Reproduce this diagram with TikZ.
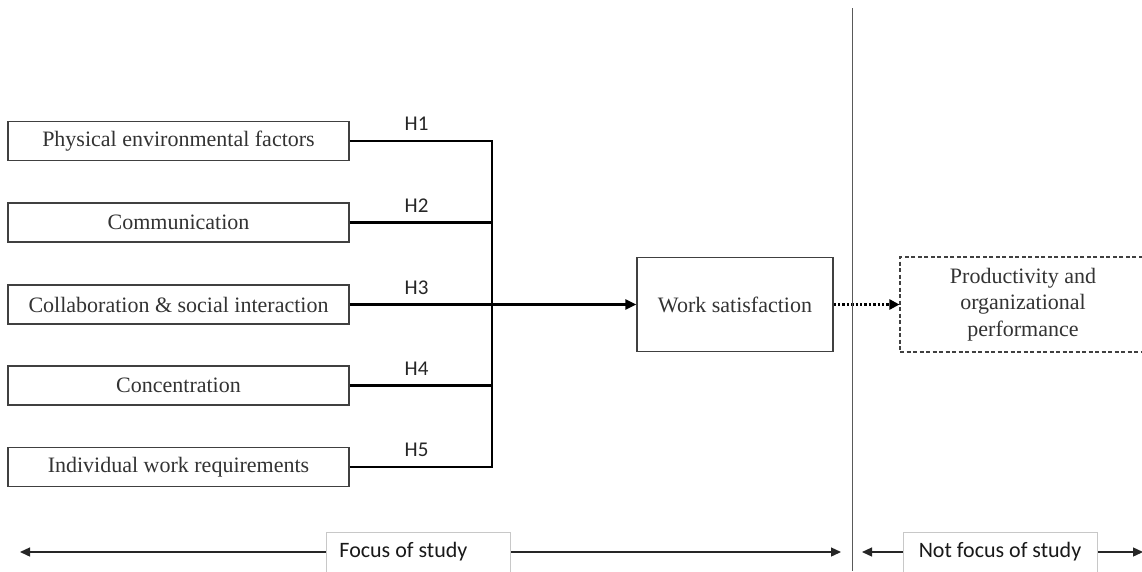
\documentclass[tikz,border=0pt]{standalone}
\usepackage{fontspec}
\setmainfont{Liberation Serif}
\newfontfamily\calibri{Carlito}
\usetikzlibrary{arrows.meta}
\definecolor{boxline}{HTML}{404040}
\definecolor{txt}{HTML}{333333}
\definecolor{lblline}{HTML}{C8C8C8}
\tikzset{
  factor/.style={draw=boxline, line width=1.3pt, minimum width=341pt, minimum height=39pt, inner sep=0pt,
    text=txt, font=\fontsize{22}{26.5}\selectfont},
  conn/.style={line width=2.6pt, black},
  tip/.style={-{Triangle[length=11pt,width=10pt]}},
  hlabel/.style={font=\calibri\fontsize{21}{24}\selectfont, text=black!85, inner sep=0pt},
  scale line/.style={line width=1.3pt, black!85},
  lblbox/.style={draw=lblline, line width=0.9pt, fill=white, minimum height=40pt, inner sep=0pt,
    font=\calibri\fontsize{22}{26}\selectfont, text=black!90},
}
\begin{document}
\begin{tikzpicture}[x=1pt,y=-1pt]
\useasboundingbox (0,0) rectangle (1142,571);
\fill[white] (0,0) rectangle (1142,571);

% factor boxes
\node[factor] (b1) at (178.5,141) {Physical environmental factors};
\node[factor] (b2) at (178.5,222.5) {Communication};
\node[factor] (b3) at (178.5,304.5) {Collaboration \& social interaction};
\node[factor] (b4) at (178.5,385.5) {Concentration};
\node[factor] (b5) at (178.5,467) {Individual work requirements};

% work satisfaction
\node[draw=boxline, line width=1.3pt, minimum width=196pt, minimum height=94pt, inner sep=0pt,
  text=txt, font=\fontsize{22}{26.5}\selectfont] (ws) at (735,304.5) {Work satisfaction};

% productivity (dashed, cut at right edge)
\node[draw=boxline, line width=1.1pt, dash pattern=on 4pt off 2.5pt, minimum width=246pt, minimum height=95pt,
  inner sep=0pt, text=txt, align=center, font=\fontsize{22}{26.5}\selectfont] (pr) at (1023,304.5)
  {Productivity and\\organizational\\performance};

% spine
\coordinate (sp) at (492,0);
\draw[conn] (b1.east) -- node[hlabel, above=9pt, pos=0.47] {H1} (b1.east -| sp);
\draw[conn] (b2.east) -- node[hlabel, above=9pt, pos=0.47] {H2} (b2.east -| sp);
\draw[conn] (b3.east) -- node[hlabel, above=9pt, pos=0.47] {H3} (b3.east -| sp);
\draw[conn] (b4.east) -- node[hlabel, above=9pt, pos=0.47] {H4} (b4.east -| sp);
\draw[conn] (b5.east) -- node[hlabel, above=9pt, pos=0.47] {H5} (b5.east -| sp);
\draw[conn, line cap=rect] (b1.east -| sp) -- (b5.east -| sp);
\draw[conn, tip] (b3.east -| sp) -- (ws.west);

% dotted arrow
\draw[line width=2.4pt, dotted, -{Triangle[length=10pt,width=10pt]}] (ws.east) -- (pr.west);

% divider
\coordinate (dt) at (852,8);
\coordinate (db) at (852,571);
\draw[line width=1pt, black!65] (dt) -- (db);

% bottom scale
\coordinate (fl) at (20,552);
\coordinate (fr) at (841,552);
\coordinate (nl) at (862,552);
\coordinate (nr) at (1143,552);
\draw[scale line, {Triangle[length=10pt,width=9pt]}-{Triangle[length=10pt,width=9pt]}] (fl) -- (fr);
\draw[scale line, {Triangle[length=10pt,width=9pt]}-{Triangle[length=10pt,width=9pt]}] (nl) -- (nr);
\node[lblbox, anchor=west, text width=158pt, inner xsep=13pt, align=flush left] (focus) at (326,552) {Focus of study};
\node[lblbox, minimum width=194pt] (notfocus) at (1000,552) {Not focus of study};
\end{tikzpicture}
\end{document}
